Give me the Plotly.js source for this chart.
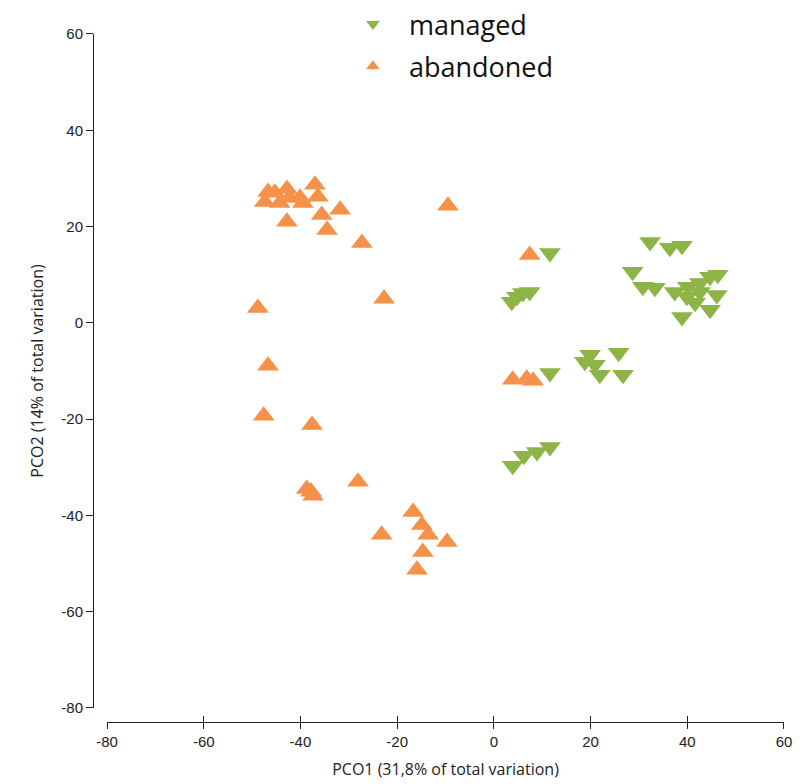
<!DOCTYPE html>
<html>
<head>
<meta charset="utf-8">
<script src="https://cdn.plot.ly/plotly-3.0.1.min.js"></script>
<style>html,body{margin:0;padding:0;background:#fff;}#chart{width:812px;height:784px;}</style>
</head>
<body>
<div id="chart"></div>
<script>
// managed (green, down triangles)
const managedX = [32.3, 36.4, 38.9, 28.7, 30.8, 33.3, 37.4, 40.1, 42.6, 44.7, 46.3, 38.9, 44.7, 41.6, 39.9, 46.1, 42.6,
                  3.7, 4.8, 6.0, 7.4, 11.6, 11.6,
                  19.9, 20.9, 21.9, 25.8, 26.7, 18.8,
                  3.9, 6.2, 8.9, 11.6];
const managedY = [16.8, 15.6, 16.0, 10.6, 7.5, 7.3, 6.4, 7.5, 8.3, 9.6, 10.0, 1.2, 2.7, 4.2, 5.4, 5.8, 6.4,
                  4.4, 5.4, 6.2, 6.4, 14.5, -10.4,
                  -6.6, -8.7, -10.8, -6.2, -10.8, -8.1,
                  -29.7, -27.6, -26.8, -25.8];
// abandoned (orange, up triangles)
const abandonedX = [-46.7, -45.3, -42.8, -40.1, -37.0, -36.4, -47.4, -44.3, -39.5, -42.2, -42.8, -35.6, -31.8, -34.5,
                    -27.3, -22.7, -9.5, -48.8, -46.7, -47.6, -37.6,
                    -38.7, -37.8, -37.4, -28.1, -23.2, -16.7, -14.9, -13.6, -9.7, -14.7, -15.9,
                    7.4, 3.9, 6.8, 8.1];
const abandonedY = [27.2, 27.0, 27.8, 26.0, 28.7, 26.2, 25.1, 24.9, 24.9, 26.0, 21.0, 22.4, 23.5, 19.3,
                    16.6, 5.0, 24.3, 3.1, -8.9, -19.3, -21.2,
                    -34.5, -35.1, -35.9, -33.0, -44.0, -39.3, -42.0, -44.0, -45.5, -47.6, -51.3,
                    14.1, -11.8, -11.6, -12.0];
const tickVals = [-80, -60, -40, -20, 0, 20, 40, 60];
const tickText = ['-80', '-60', '-40', '-20', '0', '20', '40', '60'];

const GREEN = '#8DB446';
const ORANGE = '#F6914A';
const tickFont = {family: 'Liberation Sans Narrow, Liberation Sans, Arial', size: 15, color: '#222'};
const titleFont = {family: 'Open Sans, Lato, sans-serif', size: 16, color: '#222'};

const traces = [
  {x: managedX, y: managedY, type: 'scatter', mode: 'markers', name: 'managed', legendgroup: 'a',
   marker: {symbol: 'triangle-down', size: 19, color: GREEN}},
  {x: abandonedX, y: abandonedY, type: 'scatter', mode: 'markers', name: 'abandoned', legendgroup: 'b',
   marker: {symbol: 'triangle-up', size: 19, color: ORANGE}},
  {x: [null], y: [null], xaxis: 'x2', yaxis: 'y', showlegend: false, hoverinfo: 'skip'}
];

const xaxisBase = {
  range: [-80, 60], domain: [0.0203, 1], anchor: 'free', position: 0,
  tickvals: tickVals, ticktext: tickText, showgrid: false, zeroline: false,
  showline: true, linecolor: '#222', linewidth: 1, tickcolor: '#222', ticklen: 6
};
const layout = {
  width: 812, height: 784,
  margin: {l: 93, r: 28, t: 0, b: 62},
  paper_bgcolor: '#fff', plot_bgcolor: '#fff',
  showlegend: true,
  legend: {x: 0.353, y: 1.0, xanchor: 'left', yanchor: 'top',
           itemsizing: 'constant', itemwidth: 62,
           font: {family: 'Open Sans, Lato, sans-serif', size: 27, color: '#111'},
           tracegroupgap: 4, bgcolor: 'rgba(0,0,0,0)'},
  xaxis: Object.assign({}, xaxisBase, {
    ticks: 'outside', tickfont: tickFont,
    title: {text: 'PCO1 (31,8% of total variation)', font: titleFont, standoff: 14}
  }),
  xaxis2: Object.assign({}, xaxisBase, {overlaying: 'x', ticks: 'inside', showticklabels: false}),
  yaxis: {
    range: [-80, 60], domain: [0.01939, 0.95291], anchor: 'free', position: 0,
    tickvals: tickVals, ticktext: tickText, showgrid: false, zeroline: false,
    showline: true, linecolor: '#222', linewidth: 1, ticks: 'outside', tickcolor: '#222', ticklen: 7,
    tickfont: tickFont,
    title: {text: 'PCO2 (14% of total variation)', font: titleFont, standoff: 12}
  }
};
Plotly.newPlot('chart', traces, layout, {displayModeBar: false, staticPlot: true});
</script>
</body>
</html>
